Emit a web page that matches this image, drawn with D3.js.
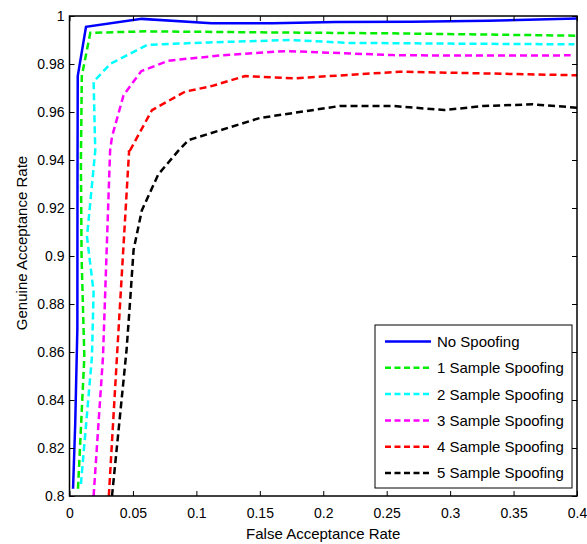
<!DOCTYPE html>
<html><head><meta charset="utf-8">
<script src="https://cdn.jsdelivr.net/npm/d3@7"></script>
<style>body{margin:0;background:#fff}svg{display:block}</style>
</head><body>
<svg id="c" width="587" height="544"></svg>
<script>
const xTicks=[0,0.05,0.1,0.15,0.2,0.25,0.3,0.35,0.4];
const xTickLabels=["0","0.05","0.1","0.15","0.2","0.25","0.3","0.35","0.4"];
const yTicks=[0.8,0.82,0.84,0.86,0.88,0.9,0.92,0.94,0.96,0.98,1];
const yTickLabels=["0.8","0.82","0.84","0.86","0.88","0.9","0.92","0.94","0.96","0.98","1"];
const seriesNames=["No Spoofing","1 Sample Spoofing","2 Sample Spoofing","3 Sample Spoofing","4 Sample Spoofing","5 Sample Spoofing"];
const seriesColors=["#0000ff","#00ee00","#00ffff","#ff00ff","#ff0000","#000000"];
const noSpoofing=[[0.0028,0.803],[0.0045,0.83],[0.0062,0.87],[0.0063,0.93],[0.0065,0.975],[0.013,0.9955],[0.057,0.9988],[0.112,0.997],[0.16,0.997],[0.21,0.9975],[0.27,0.9976],[0.33,0.998],[0.4,0.999]];
const spoof1=[[0.0067,0.803],[0.0117,0.858],[0.0095,0.9],[0.009,0.94],[0.0097,0.975],[0.0164,0.993],[0.06,0.9936],[0.15,0.9932],[0.25,0.9928],[0.4,0.9918]];
const spoof2=[[0.009,0.805],[0.0177,0.858],[0.019,0.885],[0.0138,0.908],[0.0203,0.944],[0.019,0.9726],[0.032,0.980],[0.0615,0.988],[0.11,0.989],[0.174,0.99],[0.22,0.9888],[0.3,0.9885],[0.398,0.9882]];
const spoof3=[[0.019,0.8],[0.0264,0.858],[0.032,0.944],[0.0335,0.9497],[0.0426,0.967],[0.0565,0.977],[0.078,0.9814],[0.12,0.9836],[0.171,0.9854],[0.255,0.9837],[0.3,0.9835],[0.395,0.9836]];
const spoof4=[[0.031,0.8],[0.0374,0.858],[0.047,0.944],[0.0465,0.9428],[0.065,0.9608],[0.0912,0.9685],[0.112,0.9708],[0.1384,0.975],[0.1765,0.974],[0.2605,0.9768],[0.4,0.9753]];
const spoof5=[[0.0335,0.8],[0.045,0.861],[0.048,0.883],[0.0505,0.9025],[0.057,0.919],[0.070,0.934],[0.086,0.944],[0.0938,0.9483],[0.150,0.9575],[0.213,0.9625],[0.255,0.9625],[0.2954,0.9608],[0.326,0.9625],[0.365,0.9632],[0.4,0.9618]];
const seriesData=[noSpoofing,spoof1,spoof2,spoof3,spoof4,spoof5];

const svg=d3.select("#c");
const L=69.5,R=577,T=16,B=496;
const x=d3.scaleLinear().domain([0,0.4]).range([L,R]);
const y=d3.scaleLinear().domain([0.8,1]).range([B,T]);
const font="Liberation Sans, Arial, sans-serif";

svg.append("defs").append("clipPath").attr("id","cp").append("rect")
  .attr("x",L).attr("y",T).attr("width",R-L).attr("height",B-T);

const line=d3.line().x(d=>x(d[0])).y(d=>y(d[1]));
const g=svg.append("g").attr("clip-path","url(#cp)");
seriesData.forEach((d,i)=>{
  g.append("path").attr("d",line(d)).attr("fill","none")
   .attr("stroke",seriesColors[i]).attr("stroke-width",2.5)
   .attr("stroke-dasharray",i===0?null:"7,4");
});

const ax=svg.append("g").attr("transform",`translate(0,${B})`)
  .call(d3.axisBottom(x).tickValues(xTicks).tickFormat((d,i)=>xTickLabels[i]).tickSizeInner(-5).tickSizeOuter(0).tickPadding(12));
const axT=svg.append("g").attr("transform",`translate(0,${T})`)
  .call(d3.axisTop(x).tickValues(xTicks).tickFormat("").tickSizeInner(-5).tickSizeOuter(0));
const ay=svg.append("g").attr("transform",`translate(${L},0)`)
  .call(d3.axisLeft(y).tickValues(yTicks).tickFormat((d,i)=>yTickLabels[i]).tickSizeInner(-5).tickSizeOuter(0).tickPadding(5));
const ayR=svg.append("g").attr("transform",`translate(${R},0)`)
  .call(d3.axisRight(y).tickValues(yTicks).tickFormat("").tickSizeInner(-5).tickSizeOuter(0));
[ax,axT,ay,ayR].forEach(a=>{
  a.select(".domain").remove();
  a.selectAll(".tick line").attr("stroke","#000").attr("stroke-width",1);
  a.selectAll("text").attr("font-family",font).attr("font-size",14).attr("fill","#000");
});
svg.append("rect").attr("x",L).attr("y",T).attr("width",R-L).attr("height",B-T)
  .attr("fill","none").attr("stroke","#000").attr("stroke-width",1.5);

svg.append("text").attr("x",x(0.2)).attr("y",539).attr("text-anchor","middle")
  .attr("font-family",font).attr("font-size",15).text("False Acceptance Rate");
svg.append("text").attr("transform",`translate(27,243) rotate(-90)`).attr("text-anchor","middle")
  .attr("font-family",font).attr("font-size",15).text("Genuine Acceptance Rate");

const lg=svg.append("g");
lg.append("rect").attr("x",375).attr("y",325).attr("width",197).attr("height",163)
  .attr("fill","#fff").attr("stroke","#000").attr("stroke-width",1);
seriesNames.forEach((n,i)=>{
  const yy=341.5+i*26.3;
  lg.append("line").attr("x1",385).attr("x2",431).attr("y1",yy).attr("y2",yy)
    .attr("stroke",seriesColors[i]).attr("stroke-width",2.5)
    .attr("stroke-dasharray",i===0?null:"6,3.5");
  lg.append("text").attr("x",437).attr("y",yy).attr("dy","0.36em")
    .attr("font-family",font).attr("font-size",15).text(n);
});
</script>
</body></html>
